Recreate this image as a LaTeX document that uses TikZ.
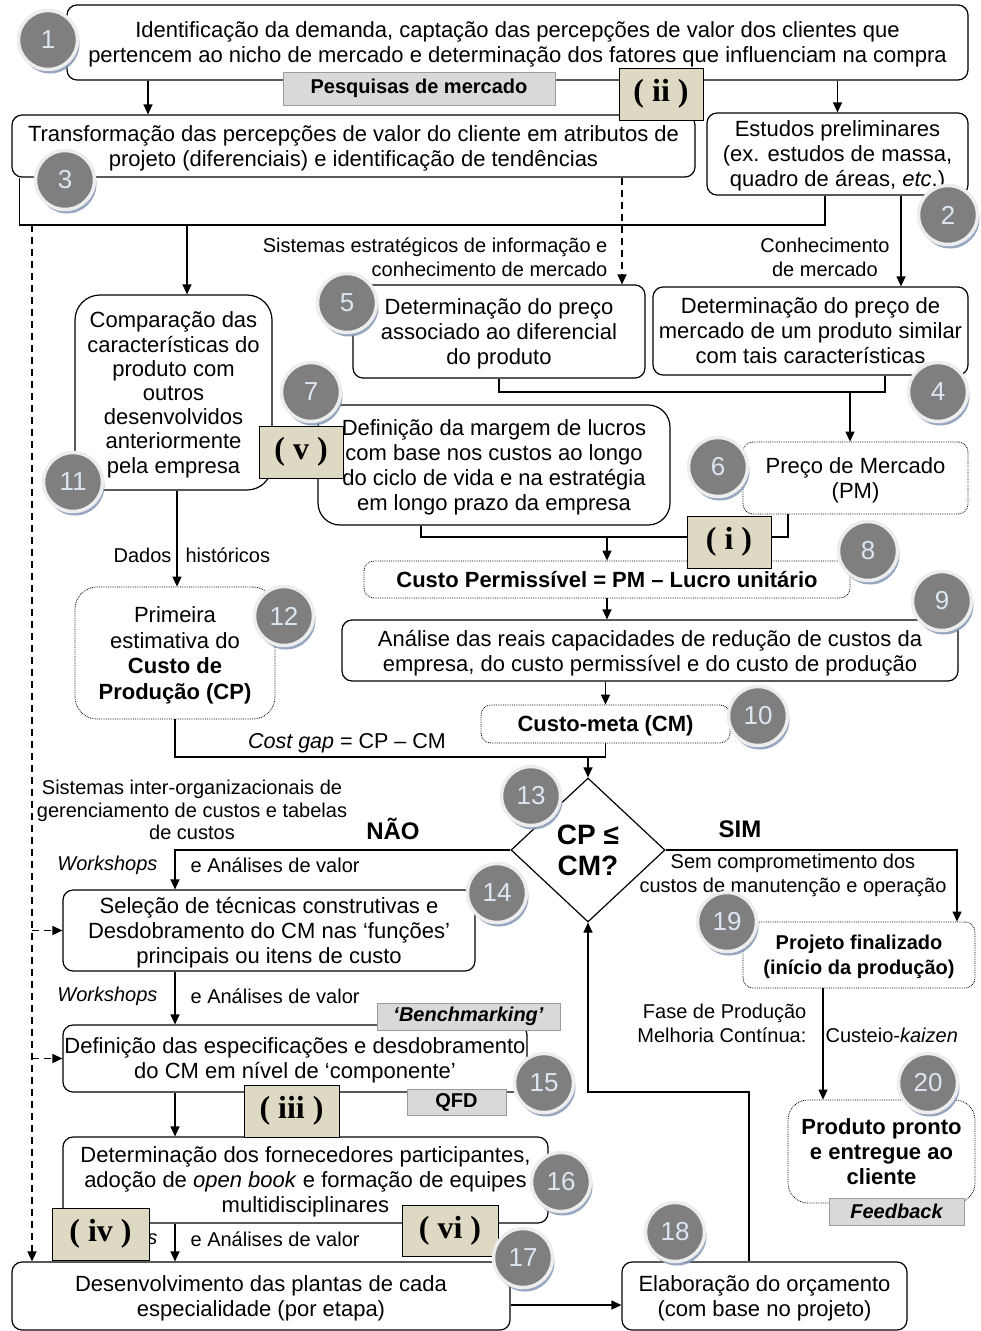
\documentclass[tikz,border=0pt]{standalone}
\usepackage{fontspec}
\setmainfont{Liberation Sans}
\newfontfamily\romfont{Liberation Serif}
\usetikzlibrary{arrows.meta,shapes.geometric,shadows}

\definecolor{tagfill}{HTML}{D9D9D9}
\definecolor{tagline}{HTML}{9C9C9C}
\definecolor{romfill}{HTML}{DDD9C3}
\definecolor{badgefill}{HTML}{7F7F7F}
\definecolor{badgering}{HTML}{EDEDED}
\definecolor{badgeshade}{HTML}{8C9DBA}
\definecolor{badgetext}{HTML}{DCE6F2}

\newcommand{\boxfont}{\fontsize{22}{25}\selectfont}
\newcommand{\lblfont}{\fontsize{20}{24}\selectfont}

\tikzset{
  stepbox/.style={draw, line width=1.2pt, rounded corners=10pt, fill=white, align=center,
    font=\boxfont, inner sep=0pt, text depth=0pt},
  softbox/.style={stepbox, line width=0.8pt, densely dotted},
  tagbox/.style={draw=tagline, fill=tagfill, line width=1pt,
    font=\fontsize{20}{24}\selectfont\bfseries, inner sep=0pt},
  rombox/.style={draw, fill=romfill, line width=1pt,
    font=\romfont\fontsize{32}{34}\selectfont\bfseries, inner sep=0pt},
  badge/.style={circle, fill=badgefill, draw=badgering, line width=3.5pt, minimum size=59pt,
    inner sep=0pt, text=badgetext, font=\fontsize{26}{26}\selectfont,
    drop shadow={shadow xshift=2pt, shadow yshift=-4pt, fill=badgeshade, opacity=.9}},
  lbl/.style={font=\lblfont, align=center, inner sep=0pt},
  flow/.style={-{Triangle[length=10pt,width=9pt]}, line width=1.2pt},
  dashflow/.style={flow, dash pattern=on 7pt off 5pt}
}

\begin{document}
\begin{tikzpicture}[x=1pt,y=-1pt]
  \useasboundingbox (0,0) rectangle (981,1331);

  % etapas
  \node[stepbox, minimum width=901pt, minimum height=75pt] (s1) at (517.5,42.5)
    {Identificação da demanda, captação das percepções de valor dos clientes que\\pertencem ao nicho de mercado e determinação dos fatores que influenciam na compra};
  \node[stepbox, minimum width=683pt, minimum height=62pt] (s3) at (353.5,146)
    {Transformação das percepções de valor do cliente em atributos de\\projeto (diferenciais) e identificação de tendências};
  \node[stepbox, minimum width=261pt, minimum height=82pt] (s2) at (837.5,154)
    {Estudos preliminares\\(ex. estudos de massa,\\quadro de áreas, \textit{etc}.)};
  \node[stepbox, minimum width=292pt, minimum height=93pt] (s5) at (499,331.5)
    {Determinação do preço\\associado ao diferencial\\do produto};
  \node[stepbox, minimum width=315pt, minimum height=88pt] (s4) at (810.5,331)
    {Determinação do preço de\\mercado de um produto similar\\com tais características};
  \node[stepbox, rounded corners=25pt, minimum width=197pt, minimum height=195pt,
    font=\fontsize{22}{24.2}\selectfont] (s11) at (173.5,392.5)
    {Comparação das\\características do\\produto com\\outros\\desenvolvidos\\anteriormente\\pela empresa};
  \node[stepbox, rounded corners=22pt, minimum width=352pt, minimum height=120pt] (s7) at (494,465)
    {Definição da margem de lucros\\com base nos custos ao longo\\do ciclo de vida e na estratégia\\em longo prazo da empresa};
  \node[softbox, minimum width=225pt, minimum height=72pt] (s6) at (855.5,478)
    {Preço de Mercado\\(PM)};
  \node[softbox, minimum width=486pt, minimum height=37pt, font=\boxfont\bfseries] (s8) at (607,579.5)
    {Custo Permissível = PM – Lucro unitário};
  \node[stepbox, minimum width=616pt, minimum height=61pt] (s9) at (650,650.5)
    {Análise das reais capacidades de redução de custos da\\empresa, do custo permissível e do custo de produção};
  \node[softbox, minimum width=249pt, minimum height=38pt, font=\boxfont\bfseries] (s10) at (605.5,724)
    {Custo-meta (CM)};
  \node[softbox, rounded corners=22pt, minimum width=200pt, minimum height=132pt,
    font=\fontsize{22}{25.7}\selectfont] (s12) at (175,653)
    {Primeira\\estimativa do\\\textbf{Custo de}\\\textbf{Produção (CP)}};
  \node[draw, diamond, line width=1.2pt, fill=white, minimum width=154pt, minimum height=144pt,
    inner sep=0pt, align=center, font=\fontsize{28}{31}\selectfont\bfseries] (d13) at (588,850)
    {CP ≤\\CM?};
  \node[stepbox, minimum width=412pt, minimum height=81pt] (s14) at (269,930.5)
    {Seleção de técnicas construtivas e\\Desdobramento do CM nas ‘funções’\\principais ou itens de custo};
  \node[stepbox, minimum width=464pt, minimum height=67pt] (s15) at (295,1058.5)
    {Definição das especificações e desdobramento\\do CM em nível de ‘componente’};
  \node[stepbox, minimum width=485pt, minimum height=86pt] (s16) at (305.5,1180)
    {Determinação dos fornecedores participantes,\\adoção de \textit{open book} e formação de equipes\\multidisciplinares};
  \node[stepbox, minimum width=498pt, minimum height=68pt] (s17) at (261,1296)
    {Desenvolvimento das plantas de cada\\especialidade (por etapa)};
  \node[stepbox, minimum width=285pt, minimum height=68pt] (s18) at (764.5,1296)
    {Elaboração do orçamento\\(com base no projeto)};
  \node[softbox, minimum width=232pt, minimum height=66pt,
    font=\fontsize{20}{25}\selectfont\bfseries] (s19) at (859,955)
    {Projeto finalizado\\(início da produção)};
  \node[softbox, rounded corners=20pt, minimum width=187pt, minimum height=103pt,
    font=\boxfont\bfseries] (s20) at (881.5,1151.5)
    {Produto pronto\\e entregue ao\\cliente};

  % ligacoes
  \coordinate (j1) at (187,225);
  \coordinate (j2) at (32,225);
  \coordinate (j4) at (850,392);
  \coordinate (j5) at (607,537);
  \coordinate (j6) at (588,757);
  \coordinate (j7) at (588,1092);

  \draw[flow] ([xshift=-369.5pt]s1.south) -- ([xshift=-205.5pt]s3.north);
  \draw[flow] (s1.south -| s2.north) -- (s2.north);
  \draw[line width=1.2pt] ([xshift=8pt]s3.south west) |- (j1) -| ([xshift=-12.5pt]s2.south);
  \draw[flow] (j1) -- (j1 |- s11.north);
  \draw[dashflow] (j2) -- (j2 |- s17.north);
  \draw[dashflow] (j2 |- s14.west) -- (s14.west);
  \draw[dashflow] (j2 |- s15.west) -- (s15.west);
  \draw[dashflow] ([xshift=268.5pt]s3.south) -- ([xshift=123pt]s5.north)
    node[lbl, pos=.75, left=14pt, align=right] {Sistemas estratégicos de informação e\\conhecimento de mercado};
  \draw[flow] ([xshift=63.5pt]s2.south) -- ([xshift=90.5pt]s4.north)
    node[lbl, pos=.68, left=11pt] {Conhecimento\\de mercado};
  \draw[line width=1.2pt] (s5.south) |- (j4) -| ([xshift=74.5pt]s4.south);
  \draw[flow] (j4) -- (j4 |- s6.north);
  \draw[flow] ([xshift=3.5pt]s11.south) -- ([xshift=2pt]s12.north)
    node[lbl, pos=.67, left=5pt] {Dados} node[lbl, pos=.67, right=8pt] {históricos};
  \draw[line width=1.2pt] ([xshift=-73pt]s7.south) |- (j5) -| ([xshift=-67.5pt]s6.south);
  \draw[flow] (j5) -- (s8.north);
  \draw[flow] (s8.south) -- (s8.south |- s9.north);
  \draw[flow] (s10.north |- s9.south) -- (s10.north);
  \draw[line width=1.2pt] (s12.south) |- (j6) -| (s10.south);
  \node[lbl, font=\fontsize{21.5}{24}\selectfont] (gap) at (347,743) {\textit{Cost gap} = CP – CM};
  \draw[flow] (j6) -- (d13.north);

  \node[lbl, font=\fontsize{20}{22.5}\selectfont] (sis) at (192,810)
    {Sistemas inter-organizacionais de\\gerenciamento de custos e tabelas\\de custos};
  \node[lbl, font=\fontsize{24}{24}\selectfont\bfseries] (nao) at (393,829) {NÃO};
  \node[lbl, font=\fontsize{24}{24}\selectfont\bfseries] (sim) at (740,829) {SIM};
  \draw[flow] (d13.west) -| ([xshift=-94pt]s14.north)
    node[lbl, pos=.69, left=17pt] {\textit{Workshops}} node[lbl, pos=.69, right=15pt] {e Análises de valor};
  \draw[flow] (d13.east) -| ([xshift=98pt]s19.north);
  \node[lbl] (sem) at (793,875) {Sem comprometimento dos\\custos de manutenção e operação};

  \draw[flow] ([xshift=-94pt]s14.south) -- ([xshift=-120pt]s15.north)
    node[lbl, pos=.46, left=17pt] {\textit{Workshops}} node[lbl, pos=.46, right=15pt] {e Análises de valor};
  \draw[flow] ([xshift=-120pt]s15.south) -- ([xshift=-130.5pt]s16.north);
  \draw[flow] ([xshift=-130.5pt]s16.south) -- ([xshift=-86pt]s17.north)
    node[lbl, pos=.41, left=17pt] {\textit{Workshops}} node[lbl, pos=.41, right=15pt] {e Análises de valor};
  \draw[flow] ([yshift=-9pt]s17.east) -- ([yshift=-9pt]s18.west);
  \draw[flow] ([xshift=-15.5pt]s18.north) |- (j7) -- (d13.south);
  \draw[flow] ([xshift=-36pt]s19.south) -- ([xshift=-58.5pt]s20.north)
    node[lbl, pos=.31, left=16pt, align=right] {Fase de Produção\\Melhoria Contínua:}
    node[lbl, pos=.42, right=2pt] {Custeio-\textit{kaizen}};

  % ferramentas
  \node[tagbox, minimum width=272pt, minimum height=33pt] (t1) at (419,88.5) {Pesquisas de mercado};
  \node[tagbox, minimum width=183pt, minimum height=27pt,
    font=\fontsize{20}{24}\selectfont\bfseries\itshape] (t2) at (468.5,1016.5) {‘Benchmarking’};
  \node[tagbox, minimum width=99pt, minimum height=26pt] (t3) at (456.5,1102) {QFD};
  \node[tagbox, minimum width=135pt, minimum height=27pt,
    font=\fontsize{20}{24}\selectfont\bfseries\itshape] (t4) at (896.5,1211.5) {Feedback};

  % fases
  \node[rombox, minimum width=84pt, minimum height=52pt] (r2) at (661,94) {( ii )};
  \node[rombox, minimum width=84pt, minimum height=52pt] (r5) at (301,452) {( v )};
  \node[rombox, minimum width=84pt, minimum height=52pt] (r1) at (729,542) {( i )};
  \node[rombox, minimum width=95pt, minimum height=52pt] (r3) at (291.5,1111) {( iii )};
  \node[rombox, minimum width=97pt, minimum height=52pt] (r4) at (100.5,1234) {( iv )};
  \node[rombox, minimum width=96pt, minimum height=51pt] (r6) at (450,1230.5) {( vi )};

  % numeracao
  \node[badge] (n1) at (48,40) {1};
  \node[badge] (n2) at (948,215) {2};
  \node[badge] (n3) at (65,180) {3};
  \node[badge] (n4) at (938,392) {4};
  \node[badge] (n5) at (347,303) {5};
  \node[badge] (n6) at (718,467) {6};
  \node[badge] (n7) at (311,392) {7};
  \node[badge] (n8) at (868,551) {8};
  \node[badge] (n9) at (942,601) {9};
  \node[badge] (n10) at (758,716) {10};
  \node[badge] (n11) at (73,482) {11};
  \node[badge] (n12) at (284,616) {12};
  \node[badge] (n13) at (531,796) {13};
  \node[badge] (n14) at (497,893) {14};
  \node[badge] (n15) at (544,1083) {15};
  \node[badge] (n16) at (561,1182) {16};
  \node[badge] (n17) at (523,1258) {17};
  \node[badge] (n18) at (675,1232) {18};
  \node[badge] (n19) at (727,922) {19};
  \node[badge] (n20) at (928,1083) {20};
\end{tikzpicture}
\end{document}
